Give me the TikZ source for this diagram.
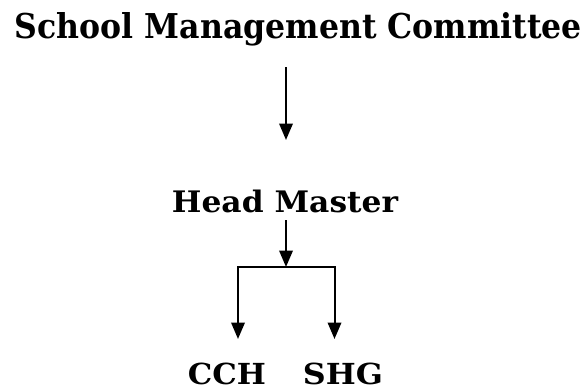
\documentclass[tikz,border=0pt]{standalone}
\usepackage{fontspec}
\setmainfont{DejaVu Serif}
\usetikzlibrary{arrows.meta}
\begin{document}
\begin{tikzpicture}[x=1pt,y=-1pt,
  lbl/.style={inner sep=0pt, anchor=base},
  arr/.style={line width=2pt, -{Triangle[length=16.5pt,width=13.5pt]}},
  ln/.style={line width=2pt}]
\path[use as bounding box] (0,0) rectangle (586,389);
\node[lbl] (smc) at (298.5,38) {\resizebox{567pt}{26pt}{\bfseries School Management Committee}};
\node[lbl] (hm) at (285,212) {\resizebox{226pt}{22.5pt}{\bfseries Head Master}};
\node[lbl] (cch) at (227,384.5) {\resizebox{78pt}{21.5pt}{\bfseries CCH}};
\node[lbl] (shg) at (343,384.5) {\resizebox{80pt}{21.5pt}{\bfseries SHG}};
\coordinate (a1) at (286,67);
\coordinate (a2) at (286,140);
\coordinate (b1) at (286,220);
\coordinate (j) at (286,267);
\coordinate (l) at (238,267);
\coordinate (r) at (334.5,267);
\coordinate (lt) at (238,339);
\coordinate (rt) at (334.5,339);
\draw[arr] (a1) -- (a2);
\draw[arr] (b1) -- (j);
\draw[ln, line cap=rect] (l) -- (r);
\draw[arr] (l) -- (lt);
\draw[arr] (r) -- (rt);
\end{tikzpicture}
\end{document}
